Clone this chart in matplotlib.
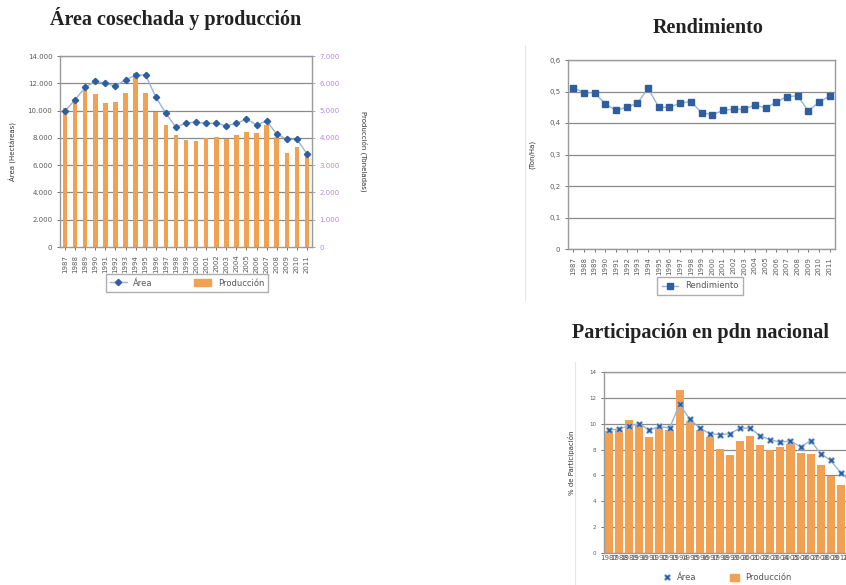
import matplotlib
matplotlib.use("Agg")
import matplotlib.pyplot as plt
import numpy as np
from matplotlib.lines import Line2D
from matplotlib.patches import Patch
from matplotlib.ticker import FuncFormatter

years = [str(y) for y in range(1987, 2012)]

area_ha = [9960, 10800, 11700, 12150, 12000, 11800, 12250, 12600, 12600, 11000,
           9800, 8770, 9100, 9150, 9060, 9060, 8890, 9060, 9370, 8960,
           9230, 8280, 7890, 7890, 6840]
produccion_ton = [5110, 5300, 5780, 5600, 5260, 5330, 5640, 6390, 5660, 4940,
                  4480, 4090, 3930, 3880, 4000, 4020, 3960, 4090, 4210, 4180,
                  4460, 4020, 3430, 3680, 3340]
rendimiento = [0.512, 0.496, 0.496, 0.460, 0.440, 0.450, 0.463, 0.510, 0.450, 0.450,
               0.463, 0.468, 0.433, 0.426, 0.440, 0.444, 0.444, 0.457, 0.448, 0.466,
               0.484, 0.486, 0.438, 0.466, 0.486]
part_area = [9.5, 9.6, 9.85, 10.0, 9.5, 9.8, 9.66, 11.5, 10.36, 9.66,
             9.23, 9.15, 9.23, 9.66, 9.66, 9.07, 8.76, 8.56, 8.69, 8.2,
             8.69, 7.68, 7.16, 6.19, 5.5]
part_produccion = [9.4, 9.5, 10.3, 9.9, 8.95, 9.66, 9.5, 12.58, 10.2, 9.5,
                   8.97, 8.04, 7.6, 8.63, 9.07, 8.35, 7.94, 8.2, 8.45, 7.73,
                   7.68, 6.78, 5.93, 5.28, 5.0]

W, H = 846, 585
ORANGE = "#F2A152"
BLUE = "#2F5E9E"
LBLUE = "#95B5DC"
GRID = "#8A8A8A"
TICKC = "#5A5A5A"
PURPLE = "#B983EC"
SERIF = ["Liberation Serif", "DejaVu Serif"]


def rect(l, t, r, b):
    return [l / W, 1 - b / H, (r - l) / W, (b - t) / H]


def style_axes(ax):
    for s in ax.spines.values():
        s.set_color("#9A9A9A")
        s.set_linewidth(1.0)
    ax.yaxis.grid(True, color=GRID, linewidth=0.9)
    ax.set_axisbelow(True)
    ax.tick_params(axis="both", colors=TICKC, labelsize=5, length=2, width=0.6)


fig = plt.figure(figsize=(W / 100, H / 100), dpi=100)
fig.patch.set_facecolor("white")

x = np.arange(len(years))

# ---------------- Chart 1 ----------------
ax1 = fig.add_axes(rect(60, 56, 312, 247))
ax1b = ax1.twinx()
ax1b.bar(x, produccion_ton, width=0.45, color=ORANGE, zorder=2)
ax1b.set_ylim(0, 7000)
ax1b.set_yticks(np.arange(0, 7001, 1000))
ax1b.yaxis.set_major_formatter(FuncFormatter(lambda v, p: f"{int(v):,}".replace(",", ".")))
ax1b.tick_params(axis="y", colors=PURPLE, labelsize=5, length=2, width=0.6)
for s in ax1b.spines.values():
    s.set_visible(False)
ax1b.set_ylabel("Producción (Toneladas)", rotation=270, fontsize=5, color="#333333", labelpad=20)

ax1.set_zorder(ax1b.get_zorder() + 1)
ax1.patch.set_visible(False)
ax1.plot(x, area_ha, color=LBLUE, linewidth=1.0, marker="D", markersize=3.2,
         markerfacecolor=BLUE, markeredgecolor=BLUE, zorder=3)
ax1.set_ylim(0, 14000)
ax1.set_yticks(np.arange(0, 14001, 2000))
ax1.yaxis.set_major_formatter(FuncFormatter(lambda v, p: f"{int(v):,}".replace(",", ".")))
ax1.set_xlim(-0.5, len(years) - 0.5)
ax1.set_xticks(x)
ax1.set_xticklabels(years, rotation=90, fontsize=4.5)
style_axes(ax1)
ax1b.yaxis.grid(False)
ax1.yaxis.grid(False)
for v in np.arange(2000, 14001, 2000):
    ax1b.axhline(v / 2, color=GRID, linewidth=0.9, zorder=1)
ax1.set_ylabel("Área (Hectáreas)", fontsize=5, color="#333333", labelpad=8)

fig.text(176 / W, 1 - 19 / H, "Área cosechada y producción", ha="center", va="center",
         fontsize=14.5, fontweight="bold", family=SERIF, color="#222222")

h1 = [Line2D([0], [0], color=LBLUE, marker="D", markersize=3.2, markerfacecolor=BLUE,
             markeredgecolor=BLUE, linewidth=1.0),
      Patch(facecolor=ORANGE, edgecolor=ORANGE)]
leg1 = fig.legend(h1, ["Área", "Producción"], loc="center", bbox_to_anchor=(187 / W, 1 - 283 / H),
                  ncol=2, fontsize=6, frameon=True, fancybox=False, edgecolor="#9A9A9A",
                  columnspacing=5, handlelength=2.0, handleheight=0.8, borderpad=0.5)
for t in leg1.get_texts():
    t.set_color("#555555")

# ---------------- Chart 2 ----------------
ax2 = fig.add_axes(rect(568, 60, 835, 249))
ax2.plot(x, rendimiento, color=LBLUE, linewidth=1.0, marker="s", markersize=3.8,
         markerfacecolor=BLUE, markeredgecolor=BLUE, zorder=3)
ax2.set_ylim(0, 0.6)
ax2.set_yticks(np.arange(0, 0.61, 0.1))
ax2.yaxis.set_major_formatter(FuncFormatter(lambda v, p: "0" if abs(v) < 1e-9 else f"{v:.1f}".replace(".", ",")))
ax2.set_xlim(-0.5, len(years) - 0.5)
ax2.set_xticks(x)
ax2.set_xticklabels(years, rotation=90, fontsize=4.5)
style_axes(ax2)
ax2.set_ylabel("(Ton/Ha)", fontsize=5, color="#333333", labelpad=10)

fig.text(708 / W, 1 - 28 / H, "Rendimiento", ha="center", va="center",
         fontsize=14.5, fontweight="bold", family=SERIF, color="#222222")

h2 = [Line2D([0], [0], color=LBLUE, marker="s", markersize=3.8, markerfacecolor=BLUE,
             markeredgecolor=BLUE, linewidth=1.0)]
leg2 = fig.legend(h2, ["Rendimiento"], loc="center", bbox_to_anchor=(700 / W, 1 - 286 / H),
                  fontsize=6, frameon=True, fancybox=False, edgecolor="#9A9A9A",
                  handlelength=2.0, borderpad=0.5)
for t in leg2.get_texts():
    t.set_color("#555555")

# ---------------- Chart 3 ----------------
ax3 = fig.add_axes(rect(604, 372, 856, 553))
ax3.bar(x, part_produccion, width=0.8, color=ORANGE, zorder=2)
ax3.plot(x, part_area, color=LBLUE, linewidth=1.0, marker="X", markersize=5,
         markerfacecolor=BLUE, markeredgecolor=LBLUE, markeredgewidth=0.5, zorder=3)
ax3.set_ylim(0, 14)
ax3.set_yticks(np.arange(0, 15, 2))
ax3.set_xlim(-0.5, len(years) - 0.5)
ax3.set_xticks(x)
ax3.set_xticklabels(years, rotation=0, fontsize=2.2)
style_axes(ax3)
ax3.tick_params(axis="x", length=0, pad=1.5)
ax3.tick_params(axis="y", labelsize=4)
ax3.set_ylabel("% de Participación", fontsize=5, color="#333333", labelpad=10)

fig.text(700 / W, 1 - 333 / H, "Participación en pdn nacional", ha="center", va="center",
         fontsize=14.5, fontweight="bold", family=SERIF, color="#222222")

h3 = [Line2D([0], [0], color="none", marker="X", markersize=5, markerfacecolor=BLUE,
             markeredgecolor=LBLUE, markeredgewidth=0.5),
      Patch(facecolor=ORANGE, edgecolor=ORANGE)]
leg3 = fig.legend(h3, ["Área", "Producción"], loc="center", bbox_to_anchor=(727 / W, 1 - 578 / H),
                  ncol=2, fontsize=6, frameon=False, columnspacing=4, handlelength=1.0,
                  handleheight=0.8)
for t in leg3.get_texts():
    t.set_color("#555555")

# faint chart-frame borders
fig.add_artist(Line2D([525 / W, 525 / W], [1 - 45 / H, 1 - 300 / H], color="#E6E6E6", linewidth=0.8))
fig.add_artist(Line2D([575 / W, 575 / W], [1 - 362 / H, 0], color="#E6E6E6", linewidth=0.8))

fig.savefig("out.png", dpi=100, facecolor="white")
